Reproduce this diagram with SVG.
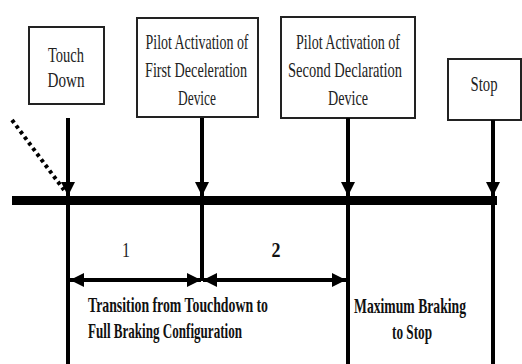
<svg xmlns="http://www.w3.org/2000/svg" width="522" height="364" viewBox="0 0 522 364">
<defs>
<style>
.box{fill:#fff;stroke:#222;stroke-width:2}
.t{font-family:"Liberation Serif","Times New Roman",serif;font-size:21px;fill:#222;text-anchor:middle}
.b{font-family:"Liberation Serif","Times New Roman",serif;font-size:21px;font-weight:bold;fill:#111}
.ln{stroke:#000;stroke-width:4;fill:none}
</style>
<marker id="ah" viewBox="0 0 10 10" refX="10" refY="5" markerWidth="3.6" markerHeight="3.6" orient="auto-start-reverse" markerUnits="strokeWidth">
<path d="M0,0 L10,5 L0,10 Z" fill="#000"/>
</marker>
</defs>
<rect width="522" height="364" fill="#fff"/>
<g id="touchdown">
<rect class="box" x="29" y="27" width="75" height="77"/>
<text class="t" x="66" y="62" textLength="36" lengthAdjust="spacingAndGlyphs">Touch</text>
<text class="t" x="66" y="87" textLength="37" lengthAdjust="spacingAndGlyphs">Down</text>
</g>
<g id="first-device">
<rect class="box" x="137" y="18" width="121" height="99"/>
<text class="t" x="197" y="49" textLength="103" lengthAdjust="spacingAndGlyphs">Pilot Activation of</text>
<text class="t" x="196" y="77" textLength="102" lengthAdjust="spacingAndGlyphs">First Deceleration</text>
<text class="t" x="197" y="105" textLength="38" lengthAdjust="spacingAndGlyphs">Device</text>
</g>
<g id="second-device">
<rect class="box" x="281" y="17" width="134" height="101"/>
<text class="t" x="348" y="49" textLength="104" lengthAdjust="spacingAndGlyphs">Pilot Activation of</text>
<text class="t" x="345" y="77" textLength="114" lengthAdjust="spacingAndGlyphs">Second Declaration</text>
<text class="t" x="348" y="105" textLength="40" lengthAdjust="spacingAndGlyphs">Device</text>
</g>
<g id="stop">
<rect class="box" x="448" y="59" width="73" height="61"/>
<text class="t" x="484" y="91" textLength="27" lengthAdjust="spacingAndGlyphs">Stop</text>
</g>
<g id="connectors">
<line class="ln" x1="12" y1="120" x2="64" y2="190" stroke-dasharray="3.5 3.5" stroke-width="4.5"/>
<line x1="12" y1="200.5" x2="497" y2="200.5" stroke="#000" stroke-width="9"/>
<line class="ln" x1="68" y1="118" x2="68" y2="196" marker-end="url(#ah)"/>
<line class="ln" x1="202" y1="118" x2="202" y2="196" marker-end="url(#ah)"/>
<line class="ln" x1="348" y1="118" x2="348" y2="196" marker-end="url(#ah)"/>
<line class="ln" x1="493" y1="120" x2="493" y2="196" marker-end="url(#ah)"/>
<line class="ln" x1="68" y1="200" x2="68" y2="364"/>
<line class="ln" x1="202" y1="200" x2="202" y2="281"/>
<line class="ln" x1="348" y1="200" x2="348" y2="364"/>
<line class="ln" x1="493" y1="200" x2="493" y2="364"/>
<line class="ln" x1="70" y1="280" x2="201" y2="280" marker-start="url(#ah)" marker-end="url(#ah)"/>
<line class="ln" x1="203" y1="280" x2="346" y2="280" marker-start="url(#ah)" marker-end="url(#ah)"/>
</g>
<g id="labels">
<text class="t" x="126" y="257" textLength="8" lengthAdjust="spacingAndGlyphs">1</text>
<text class="b" x="276" y="257" text-anchor="middle" textLength="9" lengthAdjust="spacingAndGlyphs">2</text>
<text class="b" x="88" y="312" textLength="180" lengthAdjust="spacingAndGlyphs">Transition from Touchdown to</text>
<text class="b" x="88" y="338" textLength="154" lengthAdjust="spacingAndGlyphs">Full Braking Configuration</text>
<text class="b" x="354" y="313" textLength="112" lengthAdjust="spacingAndGlyphs">Maximum Braking</text>
<text class="b" x="412" y="339" text-anchor="middle" textLength="40" lengthAdjust="spacingAndGlyphs">to Stop</text>
</g>
</svg>
